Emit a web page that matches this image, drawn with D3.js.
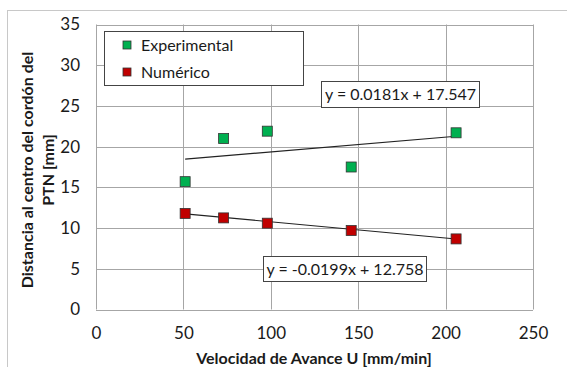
<!DOCTYPE html>
<html><head><meta charset="utf-8">
<script src="https://cdn.jsdelivr.net/npm/d3@7"></script>
<style>body{margin:0;background:#fff}svg{display:block}text{font-family:Lato,"Open Sans",sans-serif}</style>
</head><body><svg id="c" width="567" height="367"></svg>
<script>
const velocidad = [51, 73, 98, 146, 206];
const experimental = [15.7, 21.0, 21.9, 17.5, 21.7];
const numerico = [11.8, 11.25, 10.6, 9.7, 8.67];
const seriesNames = ["Experimental", "Numérico"];
const seriesColors = ["#00b050", "#c00000"];
const xTicks = [0, 50, 100, 150, 200, 250];
const yTicks = [0, 5, 10, 15, 20, 25, 30, 35];
const trendExp = {slope: 0.0181, intercept: 17.547, label: "y = 0.0181x + 17.547"};
const trendNum = {slope: -0.0199, intercept: 12.758, label: "y = -0.0199x + 12.758"};

const svg = d3.select("#c");
const x = d3.scaleLinear().domain([0, 250]).range([96, 533]);
const y = d3.scaleLinear().domain([0, 35]).range([309.5, 24.5]);
const FONT = "Lato,'Open Sans',sans-serif";

svg.append("rect").attr("x", 7.5).attr("y", 10.5).attr("width", 580).attr("height", 370)
  .attr("fill", "none").attr("stroke", "#c8c8c8").attr("stroke-width", 1);

const g = svg.append("g");
g.selectAll(".gy").data(yTicks).join("line")
  .attr("x1", x(0)).attr("x2", x(250)).attr("y1", d => Math.round(y(d)) + 0.5).attr("y2", d => Math.round(y(d)) + 0.5)
  .attr("stroke", "#a6a6a6").attr("stroke-width", 1);
g.selectAll(".gx").data(xTicks).join("line")
  .attr("y1", y(0)).attr("y2", y(35)).attr("x1", d => Math.round(x(d)) + 0.5).attr("x2", d => Math.round(x(d)) + 0.5)
  .attr("stroke", "#a6a6a6").attr("stroke-width", 1);

const xAxis = svg.append("g").attr("transform", `translate(0,${y(0)})`)
  .call(d3.axisBottom(x).tickValues(xTicks).tickSize(0).tickPadding(17));
xAxis.select(".domain").remove();
xAxis.selectAll("text").attr("font-size", 17).attr("fill", "#1a1a1a").style("font-family", FONT);
const yAxis = svg.append("g").attr("transform", `translate(${x(0)},0)`)
  .call(d3.axisLeft(y).tickValues(yTicks).tickSize(0).tickPadding(16));
yAxis.select(".domain").remove();
yAxis.selectAll("text").attr("font-size", 17).attr("fill", "#1a1a1a").style("font-family", FONT);

function trend(t, xs) {
  const x0 = d3.min(xs), x1 = d3.max(xs);
  svg.append("line").attr("x1", x(x0)).attr("y1", y(t.slope * x0 + t.intercept))
    .attr("x2", x(x1)).attr("y2", y(t.slope * x1 + t.intercept))
    .attr("stroke", "#222").attr("stroke-width", 1.2);
}
trend(trendExp, velocidad);
trend(trendNum, velocidad);

const series = [experimental, numerico];
series.forEach((vals, i) => {
  svg.append("g").selectAll("rect").data(vals).join("rect")
    .attr("x", (d, j) => x(velocidad[j]) - 5).attr("y", d => y(d) - 5)
    .attr("width", 10).attr("height", 10)
    .attr("fill", seriesColors[i]).attr("stroke", "#333").attr("stroke-width", 0.8);
});

const lg = svg.append("g");
lg.append("rect").attr("x", 104.5).attr("y", 31.5).attr("width", 199).attr("height", 54)
  .attr("fill", "#fff").attr("stroke", "#444").attr("stroke-width", 1);
seriesNames.forEach((n, i) => {
  const cy = 45 + i * 27;
  lg.append("rect").attr("x", 123).attr("y", cy - 4).attr("width", 8).attr("height", 8)
    .attr("fill", seriesColors[i]).attr("stroke", "#333").attr("stroke-width", 0.8);
  lg.append("text").attr("x", 141).attr("y", cy).attr("dy", "0.35em")
    .attr("font-size", 16).attr("fill", "#1a1a1a").text(n);
});

function eqLabel(t, bx, by, bw, bh) {
  svg.append("rect").attr("x", bx + 0.5).attr("y", by + 0.5).attr("width", bw).attr("height", bh)
    .attr("fill", "#fff").attr("stroke", "#444").attr("stroke-width", 1);
  svg.append("text").attr("x", bx + bw / 2 + 0.5).attr("y", by + bh / 2 + 0.5).attr("dy", "0.35em")
    .attr("text-anchor", "middle").attr("font-size", 16).attr("fill", "#1a1a1a").text(t.label);
}
eqLabel(trendExp, 321, 81, 158, 26);
eqLabel(trendNum, 263, 256, 163, 25);

svg.append("text").attr("x", 314).attr("y", 358).attr("dy", "0.35em").attr("text-anchor", "middle")
  .attr("font-size", 16).attr("font-weight", "bold").attr("fill", "#1a1a1a").text("Velocidad de Avance U [mm/min]");
const yt = svg.append("text").attr("transform", "translate(27,170) rotate(-90)").attr("text-anchor", "middle")
  .attr("font-size", 16).attr("font-weight", "bold").attr("fill", "#1a1a1a");
yt.append("tspan").attr("x", 0).attr("y", 0).attr("dy", "0.35em").text("Distancia al centro del cordón del");
yt.append("tspan").attr("x", 0).attr("y", 21).attr("dy", "0.35em").text("PTN  [mm]");
</script></body></html>
